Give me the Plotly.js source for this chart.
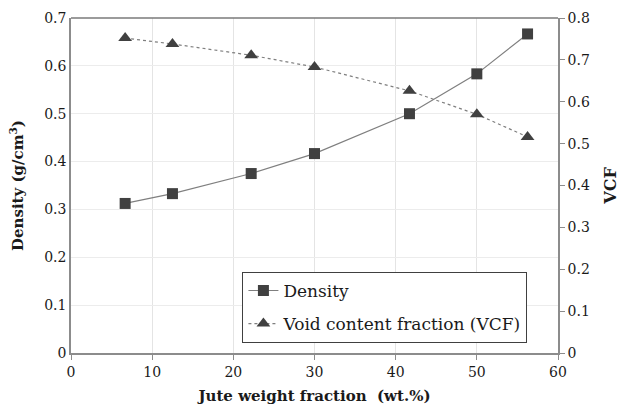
<!DOCTYPE html>
<html><head><meta charset="utf-8">
<script src="https://cdn.plot.ly/plotly-3.0.1.min.js"></script>
<style>body{margin:0;background:#fff}#c{width:630px;height:410px}</style>
</head><body><div id="c"></div>
<script>
const juteFraction = [6.67, 12.5, 22.2, 30.0, 41.7, 50.0, 56.25];
const density = [0.3125, 0.333, 0.375, 0.4167, 0.5, 0.5833, 0.6667];
const vcf = [0.752, 0.738, 0.711, 0.683, 0.626, 0.570, 0.516];
const names = ["Density", "Void content fraction (VCF)"];

const font = {family: "DejaVu Serif", color: "#1a1a1a"};
const traces = [
  {x: juteFraction, y: density, name: names[0], mode: "lines+markers", yaxis: "y", legendgroup: "a",
   line: {color: "#7f7f7f", width: 1.2},
   marker: {symbol: "square", size: 11, color: "#404040"}},
  {x: juteFraction, y: vcf, name: names[1], mode: "lines+markers", yaxis: "y2", legendgroup: "b",
   line: {color: "#7f7f7f", width: 1.2, dash: "dot"},
   marker: {symbol: "triangle-up", size: 12, color: "#404040"}}
];
const layout = {
  width: 630, height: 410,
  margin: {l: 71, r: 72, t: 18, b: 57},
  paper_bgcolor: "#fff", plot_bgcolor: "#fff",
  font: Object.assign({size: 14}, font),
  showlegend: true,
  legend: {x: 0.352, y: 0.03, xanchor: "left", yanchor: "bottom",
    bgcolor: "#fff", bordercolor: "#404040", borderwidth: 1,
    font: Object.assign({size: 17}, font), tracegroupgap: 8},
  xaxis: {range: [0, 60], dtick: 10, showgrid: true, gridcolor: "#e4e4e4",
    showline: true, linecolor: "#8c8c8c", linewidth: 1.5, mirror: false,
    ticks: "outside", ticklen: 5, tickcolor: "#8c8c8c", zeroline: false,
    tickfont: Object.assign({size: 14}, font),
    title: {text: "<b>Jute weight fraction  (wt.%)</b>", font: Object.assign({size: 15}, font), standoff: 12}},
  yaxis: {range: [0, 0.7], dtick: 0.1, showgrid: true, gridcolor: "#ececec",
    showline: true, linecolor: "#8c8c8c", linewidth: 1.5, zeroline: false,
    ticks: "", tickformat: ".1~f",
    tickfont: Object.assign({size: 14}, font),
    title: {text: "<b>Density (g/cm<sup>3</sup>)</b>", font: Object.assign({size: 15}, font), standoff: 17}},
  yaxis2: {range: [0, 0.8], dtick: 0.1, overlaying: "y", side: "right", showgrid: false,
    showline: true, linecolor: "#8c8c8c", linewidth: 1.5, zeroline: false,
    ticks: "outside", ticklen: 5, tickcolor: "#8c8c8c", tickformat: ".1~f",
    tickfont: Object.assign({size: 14}, font),
    title: {text: "<b>VCF</b>", font: Object.assign({size: 16}, font), standoff: 16}},
  shapes: [{type: "line", xref: "paper", yref: "paper", x0: 0, x1: 1, y0: 1, y1: 1,
    line: {color: "#7a7a7a", width: 1.5}}]
};
Plotly.newPlot("c", traces, layout, {displayModeBar: false});
</script></body></html>
